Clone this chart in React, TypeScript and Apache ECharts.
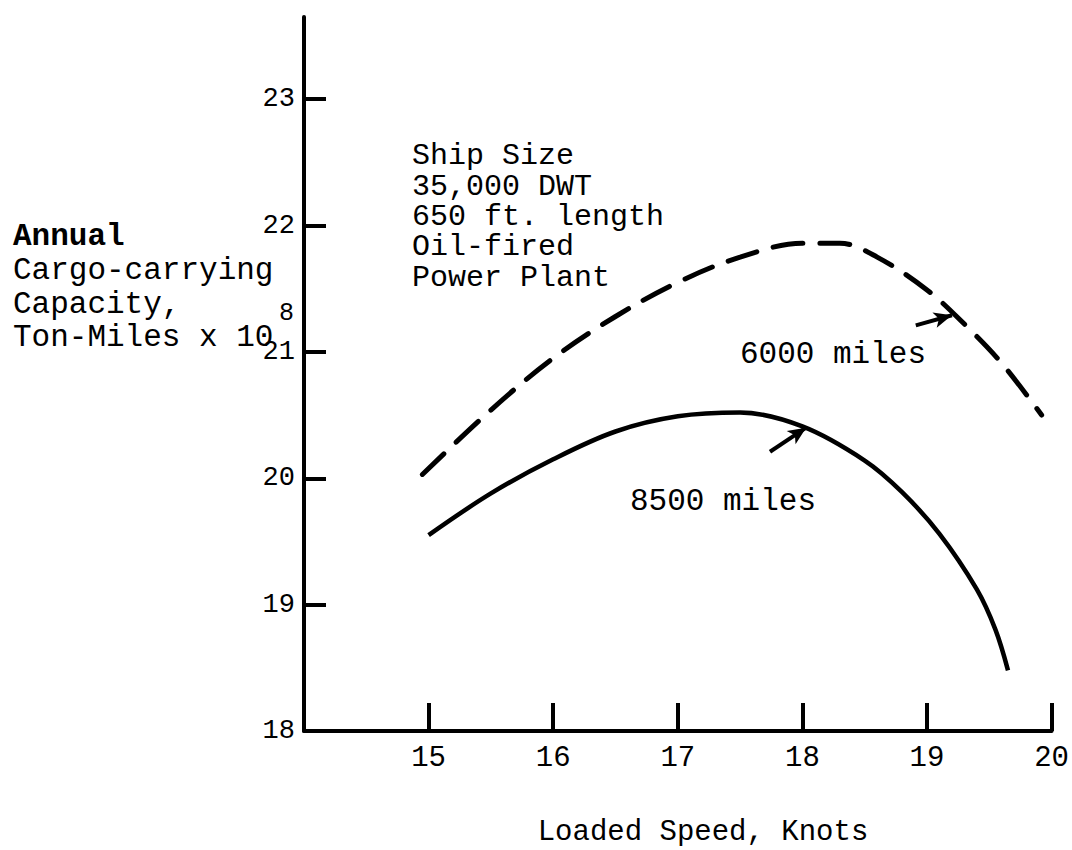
import React, { useEffect, useRef } from "react";
import * as echarts from "echarts";

const FONT = "'Liberation Mono', 'DejaVu Sans Mono', monospace";

const xTicks = [15, 16, 17, 18, 19, 20];
const yTicks = [18, 19, 20, 21, 22, 23];

// 6000 miles route (dashed)
const speed6000 = [14.95, 15.5, 16.0, 16.5, 17.0, 17.5, 18.0, 18.3, 18.6, 19.0, 19.3, 19.6, 19.92];
const cap6000 = [20.03, 20.54, 20.95, 21.28, 21.55, 21.75, 21.86, 21.86, 21.75, 21.49, 21.22, 20.91, 20.5];

// 8500 miles route (solid)
const speed8500 = [15.0, 15.5, 16.0, 16.5, 17.0, 17.5, 18.0, 18.5, 18.8, 19.1, 19.4, 19.55, 19.65];
const cap8500 = [19.55, 19.88, 20.15, 20.37, 20.49, 20.52, 20.41, 20.14, 19.89, 19.56, 19.12, 18.8, 18.48];

// annotation arrows [tail, head]
const arrow6000 = [[18.91, 21.21], [19.2, 21.29]];
const arrow8500 = [[17.74, 20.21], [18.03, 20.4]];

const yTitleLines = ["Annual", "Cargo-carrying", "Capacity,", "Ton-Miles x 10"];
const yTitleExp = "8";
const shipLines = ["Ship Size", "35,000 DWT", "650 ft. length", "Oil-fired", "Power Plant"];
const xTitle = "Loaded Speed, Knots";
const label6000 = "6000 miles";
const label8500 = "8500 miles";

export default function App() {
  const ref = useRef<HTMLDivElement>(null);
  useEffect(() => {
    const chart = echarts.init(ref.current!, null, { renderer: "svg" });
    const pair = (xs: number[], ys: number[]) => xs.map((x, i) => [x, ys[i]]);
    const arrowMark = (a: number[][]) => ({
      silent: true,
      symbol: ["none", "arrow"],
      symbolSize: [12, 18],
      label: { show: false },
      lineStyle: { color: "#000", width: 4, type: "solid" },
      data: [[{ coord: a[0] }, { coord: a[1] }]],
    });
    const txt = (text: string, x: number, y: number, size: number, align = "left") => ({
      type: "text",
      x,
      y,
      style: {
        text,
        fill: "#000",
        font: `${size}px ${FONT}`,
        textAlign: align,
        textVerticalAlign: "middle",
      },
    });
    const graphics: any[] = [
      {
        type: "text",
        x: 13,
        y: 220,
        style: {
          text: "{b|" + yTitleLines[0] + "}\n" + yTitleLines.slice(1).join("\n"),
          fill: "#000",
          font: `31px ${FONT}`,
          lineHeight: 33.7,
          textVerticalAlign: "top",
          rich: {
            b: { fontWeight: "bold", fontSize: 31, fontFamily: FONT, lineHeight: 33.7, fill: "#000" },
          },
        },
      },
      txt(yTitleExp, 279, 313, 25),
      {
        type: "text",
        x: 412,
        y: 141,
        style: {
          text: shipLines.join("\n"),
          fill: "#000",
          font: `30px ${FONT}`,
          lineHeight: 30.4,
          textVerticalAlign: "top",
        },
      },
      txt(label6000, 740, 354, 31),
      txt(label8500, 630, 501, 31),
      txt(xTitle, 703, 832, 29, "center"),
    ];

    chart.setOption({
      animation: false,
      backgroundColor: "#fff",
      grid: { left: 304, right: 15, top: 17, bottom: 119, containLabel: false },
      xAxis: {
        type: "value",
        min: 14,
        max: 20,
        interval: 1,
        axisLine: { show: true, lineStyle: { color: "#000", width: 4 } },
        axisTick: { show: true, inside: true, length: 28, customValues: xTicks, lineStyle: { color: "#000", width: 4 } },
        axisLabel: { show: true, customValues: xTicks, fontSize: 29, fontFamily: FONT, color: "#000", margin: 13 },
        splitLine: { show: false },
      },
      yAxis: {
        type: "value",
        min: 18,
        max: 23.65,
        axisLine: { show: true, lineStyle: { color: "#000", width: 4 } },
        axisTick: { show: true, inside: true, length: 22, customValues: yTicks, lineStyle: { color: "#000", width: 4 } },
        axisLabel: { show: true, customValues: yTicks, fontSize: 27, fontFamily: FONT, color: "#000", margin: 9 },
        splitLine: { show: false },
      },
      series: [
        {
          type: "line",
          name: "6000 miles",
          data: pair(speed6000, cap6000),
          smooth: 0.35,
          symbol: "none",
          lineStyle: { color: "#000", width: 5, type: [30, 17], cap: "round" },
          markLine: arrowMark(arrow6000),
        },
        {
          type: "line",
          name: "8500 miles",
          data: pair(speed8500, cap8500),
          smooth: 0.35,
          symbol: "none",
          lineStyle: { color: "#000", width: 4.5 },
          markLine: arrowMark(arrow8500),
        },
      ],
      graphic: graphics,
    });
    return () => chart.dispose();
  }, []);
  return (
    <div
      ref={ref}
      style={{ position: "fixed", left: 0, top: 0, width: 1072, height: 850, background: "#fff" }}
    />
  );
}
